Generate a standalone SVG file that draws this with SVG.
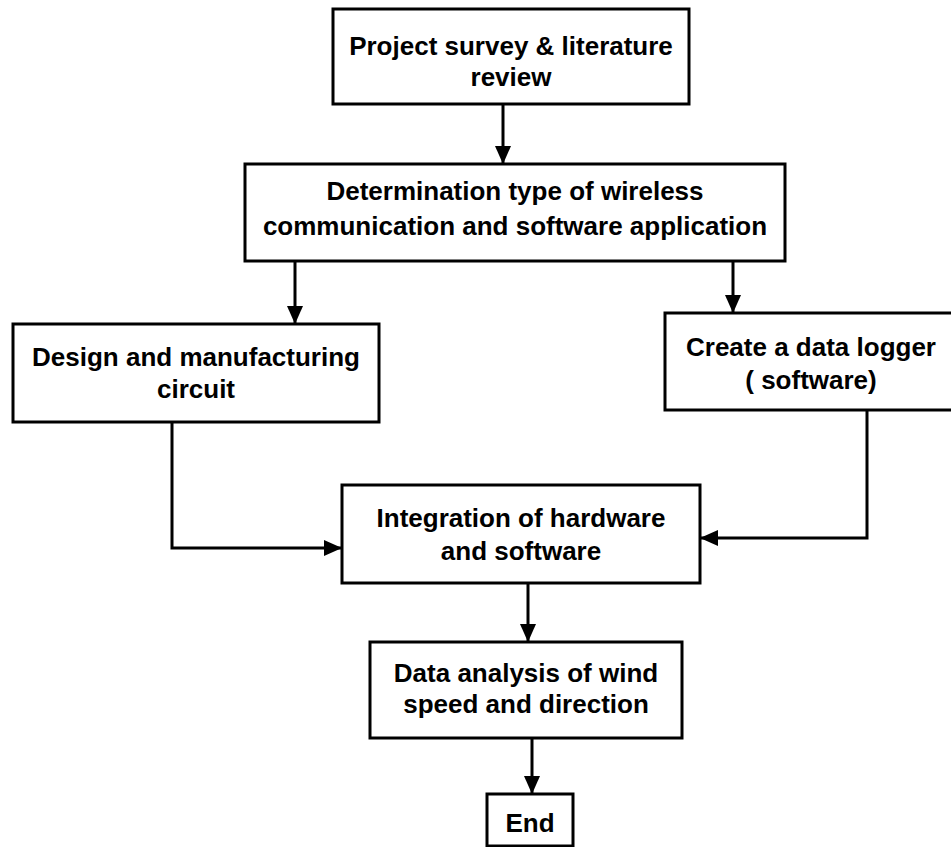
<svg xmlns="http://www.w3.org/2000/svg" width="951" height="847" viewBox="0 0 951 847">
  <style>
    .box { fill: #ffffff; stroke: #000000; stroke-width: 3; }
    .label { font-family: "Liberation Sans", Arial, sans-serif; font-size: 26px; font-weight: bold; fill: #000000; text-anchor: middle; }
    .link { fill: none; stroke: #000000; stroke-width: 3; }
  </style>
  <defs>
    <marker id="arrow" markerUnits="userSpaceOnUse" markerWidth="18" markerHeight="16" refX="17" refY="8" orient="auto">
      <path d="M0,0 L18,8 L0,16 Z" fill="#000000"/>
    </marker>
  </defs>
  <rect x="0" y="0" width="951" height="847" fill="#ffffff"/>

  <g id="connectors">
    <path class="link" d="M503,104 L503,163" marker-end="url(#arrow)"/>
    <path class="link" d="M295,261 L295,323" marker-end="url(#arrow)"/>
    <path class="link" d="M733,261 L733,312" marker-end="url(#arrow)"/>
    <path class="link" d="M172,422 L172,548 L341,548" marker-end="url(#arrow)"/>
    <path class="link" d="M867,410 L867,538 L701,538" marker-end="url(#arrow)"/>
    <path class="link" d="M528,583 L528,641" marker-end="url(#arrow)"/>
    <path class="link" d="M532,738 L532,793" marker-end="url(#arrow)"/>
  </g>

  <g id="survey">
    <rect class="box" x="333" y="9" width="356" height="95"/>
    <text class="label" x="511" y="55">Project survey &amp; literature</text>
    <text class="label" x="511" y="86">review</text>
  </g>

  <g id="determination">
    <rect class="box" x="245" y="164" width="540" height="97"/>
    <text class="label" x="515" y="200">Determination type of wireless</text>
    <text class="label" x="515" y="235">communication and software application</text>
  </g>

  <g id="design">
    <rect class="box" x="13" y="324" width="366" height="98"/>
    <text class="label" x="196" y="366">Design and manufacturing</text>
    <text class="label" x="196" y="398">circuit</text>
  </g>

  <g id="logger">
    <rect class="box" x="665" y="313" width="292" height="97"/>
    <text class="label" x="811" y="356">Create a data logger</text>
    <text class="label" x="811" y="389">( software)</text>
  </g>

  <g id="integration">
    <rect class="box" x="342" y="485" width="358" height="98"/>
    <text class="label" x="521" y="527">Integration of hardware</text>
    <text class="label" x="521" y="560">and software</text>
  </g>

  <g id="analysis">
    <rect class="box" x="370" y="642" width="312" height="96"/>
    <text class="label" x="526" y="682">Data analysis of wind</text>
    <text class="label" x="526" y="713">speed and direction</text>
  </g>

  <g id="end">
    <rect class="box" x="487" y="794" width="86" height="52"/>
    <text class="label" x="530" y="832">End</text>
  </g>
</svg>
